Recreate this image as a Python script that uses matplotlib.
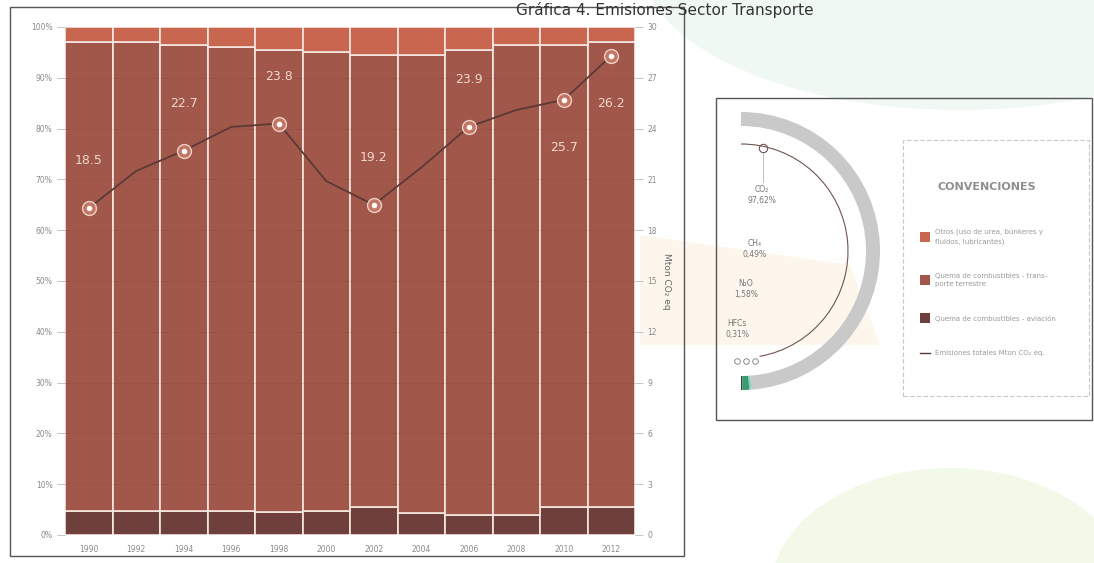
import matplotlib.pyplot as plt
import numpy as np
from matplotlib.patches import Rectangle, Wedge, Ellipse, Polygon, Arc

# datos
anios = ['1990', '1992', '1994', '1996', '1998', '2000',
         '2002', '2004', '2006', '2008', '2010', '2012']
aviacion = [4.8, 4.8, 4.8, 4.8, 4.6, 4.8, 5.6, 4.3, 4.0, 4.0, 5.5, 5.5]
terrestre = [92.2, 92.2, 91.7, 91.2, 90.9, 90.2, 88.9, 90.2, 91.5, 92.5, 91.0, 91.5]
otros = [3.0, 3.0, 3.5, 4.0, 4.5, 5.0, 5.5, 5.5, 4.5, 3.5, 3.5, 3.0]
totales = [19.3, 21.5, 22.7, 24.1, 24.3, 20.9, 19.5, 21.7, 24.1, 25.1, 25.7, 28.3]
idx_etiq = [0, 2, 4, 6, 8, 10, 11]
txt_etiq = ['18.5', '22.7', '23.8', '19.2', '23.9', '25.7', '26.2']

gases = ['CO₂', 'CH₄', 'N₂O', 'HFCs']
participacion = [97.62, 0.49, 1.58, 0.31]
txt_gases = ['97,62%', '0,49%', '1,58%', '0,31%']

leyenda = ['Otros (uso de urea, búnkeres y\nfluidos, lubricantes)',
           'Quema de combustibles - trans-\nporte terrestre',
           'Quema de combustibles - aviación',
           'Emisiones totales Mton CO₂ eq.']

c_otros = '#c8664f'
c_terr = '#a1574a'
c_avi = '#6f3f3b'
c_linea = '#5b3a36'
gris = '#8a8a8a'

W, H = 1094, 563
fig = plt.figure(figsize=(W / 100, H / 100), dpi=100)
fig.patch.set_facecolor('white')

# fondo (marcas de agua palidas)
bg = fig.add_axes([0, 0, 1, 1], zorder=-2)
bg.set_xlim(0, W)
bg.set_ylim(0, H)
bg.axis('off')
bg.add_patch(Ellipse((960, H + 40), 640, 300, color='#f0f8f3', lw=0))
bg.add_patch(Ellipse((950, -30), 360, 250, color='#f3f9e8', lw=0))
bg.add_patch(Polygon([(640, H - 235), (850, H - 265), (880, H - 345), (640, H - 345)],
                     closed=True, color='#fdf6ec', lw=0))

def P(y):
    return H - y

# grafico principal
ax = fig.add_axes([65 / W, 28 / H, 570 / W, 508 / H], zorder=1)
ax.set_facecolor('none')
x = np.arange(len(anios))
ax.bar(x, aviacion, width=1.0, color=c_avi, edgecolor='#f6e8e2', linewidth=1.2)
ax.bar(x, terrestre, bottom=aviacion, width=1.0, color=c_terr,
       edgecolor='#f6e8e2', linewidth=1.2)
base = [a + t for a, t in zip(aviacion, terrestre)]
ax.bar(x, otros, bottom=base, width=1.0, color=c_otros,
       edgecolor='#f6e8e2', linewidth=1.2)
ax.set_xlim(-0.5, len(anios) - 0.5)
ax.set_ylim(0, 100)
ax.set_yticks(range(0, 101, 10))
ax.set_yticklabels([f'{v}%' for v in range(0, 101, 10)], fontsize=5.5, color=gris)
ax.set_xticks(x)
ax.set_xticklabels(anios, fontsize=5.5, color=gris)
ax.tick_params(axis='y', length=6, width=0.6, color='#bbbbbb', pad=3)
ax.tick_params(axis='x', length=0, pad=7)
for v in range(10, 100, 10):
    ax.axhline(v, color='#7a3a30', lw=0.5, alpha=0.2, zorder=3)
for s in ax.spines.values():
    s.set_visible(False)

ax2 = ax.twinx()
ax2.set_ylim(0, 30)
ax2.set_yticks(range(0, 31, 3))
ax2.set_yticklabels([str(v) for v in range(0, 31, 3)], fontsize=5.5, color=gris)
ax2.tick_params(axis='y', length=6, width=0.6, color='#bbbbbb', pad=3)
ax2.set_ylabel('Mton CO₂ eq', fontsize=6.5, color='#666666', rotation=270, labelpad=10)
for s in ax2.spines.values():
    s.set_visible(False)
ax2.plot(x, totales, color=c_linea, lw=1.3)
xm = [x[i] for i in idx_etiq]
ym = [totales[i] for i in idx_etiq]
ax2.plot(xm, ym, 'o', ms=10, mfc='#c87a68', mec='#f3dcd2', mew=1.0, alpha=0.9)
ax2.plot(xm, ym, 'o', ms=3, color='white')
for k, (i, t) in enumerate(zip(idx_etiq, txt_etiq)):
    off = 34 if k < 5 else -34
    ax2.annotate(t, (x[i], totales[i]), xytext=(0, off), textcoords='offset points',
                 ha='center', va='center', fontsize=9, color='#f2d6ca')

# capa superior: marcos, titulo, panel derecho
ov = fig.add_axes([0, 0, 1, 1], zorder=0)
ov.set_xlim(0, W)
ov.set_ylim(0, H)
ov.axis('off')
ov.set_facecolor('none')
ov.add_patch(Rectangle((10, P(556)), 674, 549, fill=False, ec='#555555', lw=1.0))

fig.text(665 / W, 1 - 2 / H, 'Gráfica 4. Emisiones Sector Transporte',
         ha='center', va='top', fontsize=11, color='#333333')

ov.add_patch(Rectangle((716, P(420)), 376, 322, fill=False, ec='#555555', lw=1.0))
ov.add_patch(Rectangle((903, P(396)), 186, 256, fill=False, ec='#c8c8c8', lw=0.8,
                       ls=(0, (4, 2))))

# semicirculo de gases
cx, cy, r_ext, grosor = 741, P(251), 139, 14
cols_gases = ['#c9c9c9', '#7fd3c0', '#3c9a6e', '#2d4a3a']
ang = -90.0
for g in [3, 2, 1, 0]:
    d = 180.0 * participacion[g] / sum(participacion)
    ov.add_patch(Wedge((cx, cy), r_ext, ang, ang + d, width=grosor,
                       color=cols_gases[g], lw=0))
    ang += d
ov.add_patch(Arc((cx, cy), 214, 214, theta1=-80, theta2=90, color='#6e5551', lw=0.8))
ov.plot([763], [P(148)], 'o', ms=6, mfc='none', mec='#6e5551', mew=0.8)
ov.plot([763, 763], [P(153), P(182)], color='#aaaaaa', lw=0.5)
pos_gases = [(762, 190), (755, 244), (746, 284), (737, 323)]
for (gx, gy), g, t in zip(pos_gases, gases, txt_gases):
    ov.text(gx, P(gy), g, ha='center', va='center', fontsize=5.5, color='#777777')
    ov.text(gx, P(gy + 11), t, ha='center', va='center', fontsize=5.5, color='#777777')
for gx in [737, 746, 755]:
    ov.plot([gx], [P(361)], 'o', ms=4, mfc='none', mec='#777777', mew=0.6)

# leyenda
ov.text(987, P(187), 'CONVENCIONES', ha='center', va='center', fontsize=8,
        fontweight='bold', color='#8f8f8f')
ys_ley = [237, 280, 318]
for yy, c, t in zip(ys_ley, [c_otros, c_terr, c_avi], leyenda[:3]):
    ov.add_patch(Rectangle((920, P(yy) - 5), 10, 10, color=c, lw=0))
    ov.text(935, P(yy), t, ha='left', va='center', fontsize=5, color='#9a9a9a',
            linespacing=1.5)
ov.plot([920, 930], [P(353), P(353)], color=c_linea, lw=1.0)
ov.text(935, P(353), leyenda[3], ha='left', va='center', fontsize=5, color='#9a9a9a')

fig.savefig('out.png', dpi=100)
